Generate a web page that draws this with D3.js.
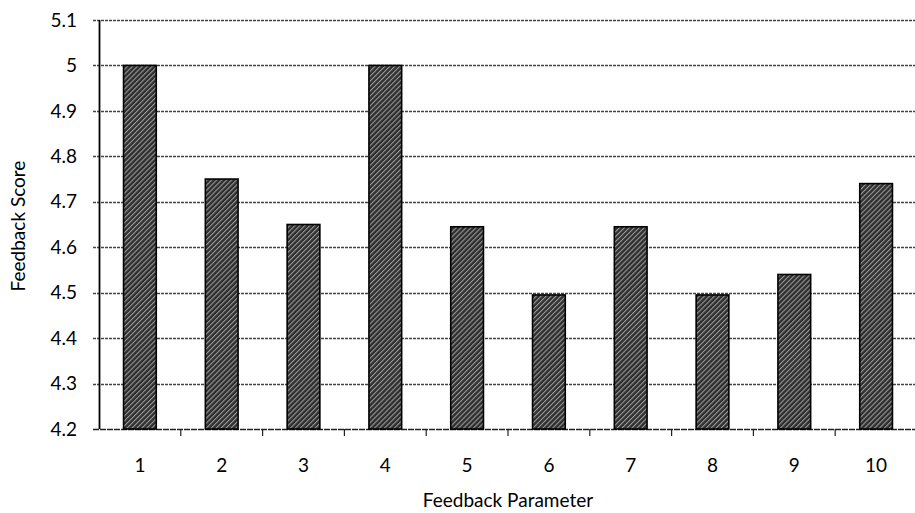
<!DOCTYPE html>
<html lang="en">
<head>
<script src="https://d3js.org/d3.v7.min.js"></script>
<style>
body { margin: 0; background: #fff; }
text { font-family: Lato, "Noto Sans", sans-serif; fill: #000; }
</style>
</head>
<body>
<div id="chart"></div>
<script>
var parameters = ["1", "2", "3", "4", "5", "6", "7", "8", "9", "10"];
var scores = [5.0, 4.75, 4.65, 5.0, 4.645, 4.495, 4.645, 4.495, 4.54, 4.74];
var yTicks = [4.2, 4.3, 4.4, 4.5, 4.6, 4.7, 4.8, 4.9, 5, 5.1];

var width = 915, height = 513;
var margin = {top: 20, right: -2, bottom: 84, left: 99};

var svg = d3.select("#chart").append("svg")
    .attr("width", width)
    .attr("height", height);

// hatched fill for the bars
var defs = svg.append("defs");
var pat = defs.append("pattern")
    .attr("id", "hatch")
    .attr("patternUnits", "userSpaceOnUse")
    .attr("width", 3.5)
    .attr("height", 3.5)
    .attr("patternTransform", "rotate(45)");
pat.append("rect").attr("width", 3.5).attr("height", 3.5).attr("fill", "#2e2e2e");
pat.append("rect").attr("x", 0).attr("width", 1.1).attr("height", 3.5).attr("fill", "#9a9a9a");

var x = d3.scaleBand()
    .domain(parameters)
    .range([margin.left, width - margin.right])
    .paddingInner(0.6)
    .paddingOuter(0.3);

var xBand = d3.scaleBand()
    .domain(parameters)
    .range([margin.left, width - margin.right]);

var y = d3.scaleLinear()
    .domain([4.2, 5.1])
    .range([height - margin.bottom, margin.top]);

// gridlines
svg.append("g")
    .selectAll("line")
    .data(yTicks)
    .enter().append("line")
    .attr("x1", margin.left - 6)
    .attr("x2", width)
    .attr("y1", function(d) { return Math.round(y(d)) + 0.5; })
    .attr("y2", function(d) { return Math.round(y(d)) + 0.5; })
    .attr("stroke", function(d) { return d == 4.2 ? "#222" : "#444"; })
    .attr("stroke-width", 1.4)
    .attr("stroke-dasharray", function(d) { return d == 4.2 ? "6,1" : "3,1"; });

// bars
svg.append("g")
    .selectAll("rect")
    .data(scores)
    .enter().append("rect")
    .attr("x", function(d, i) { return x(parameters[i]); })
    .attr("y", function(d) { return y(d); })
    .attr("width", x.bandwidth())
    .attr("height", function(d) { return y(4.2) - y(d); })
    .attr("fill", "url(#hatch)")
    .attr("stroke", "#000")
    .attr("stroke-width", 1.6);

// y axis line
svg.append("line")
    .attr("x1", margin.left + 0.5).attr("x2", margin.left + 0.5)
    .attr("y1", y(5.1)).attr("y2", y(4.2))
    .attr("stroke", "#000").attr("stroke-width", 1.8);

// x ticks between categories
svg.append("g")
    .selectAll("line")
    .data(parameters.slice(1))
    .enter().append("line")
    .attr("x1", function(d) { return xBand(d); })
    .attr("x2", function(d) { return xBand(d); })
    .attr("y1", y(4.2))
    .attr("y2", y(4.2) + 7)
    .attr("stroke", "#222")
    .attr("stroke-width", 1.2);

// y tick labels
svg.append("g")
    .selectAll("text")
    .data(yTicks)
    .enter().append("text")
    .attr("x", 77)
    .attr("y", function(d) { return y(d); })
    .attr("dy", "0.35em")
    .attr("text-anchor", "end")
    .style("font-size", "19px")
    .text(function(d) { return d; });

// x tick labels
svg.append("g")
    .selectAll("text")
    .data(parameters)
    .enter().append("text")
    .attr("x", function(d) { return xBand(d) + xBand.bandwidth() / 2; })
    .attr("y", 465)
    .attr("dy", "0.35em")
    .attr("text-anchor", "middle")
    .style("font-size", "19px")
    .text(function(d) { return d; });

svg.append("text")
    .attr("x", 508)
    .attr("y", 500)
    .attr("dy", "0.35em")
    .attr("text-anchor", "middle")
    .style("font-size", "19px")
    .text("Feedback Parameter");

svg.append("text")
    .attr("transform", "translate(18,226) rotate(-90)")
    .attr("dy", "0.35em")
    .attr("text-anchor", "middle")
    .style("font-size", "19px")
    .text("Feedback Score");
</script>
</body>
</html>
